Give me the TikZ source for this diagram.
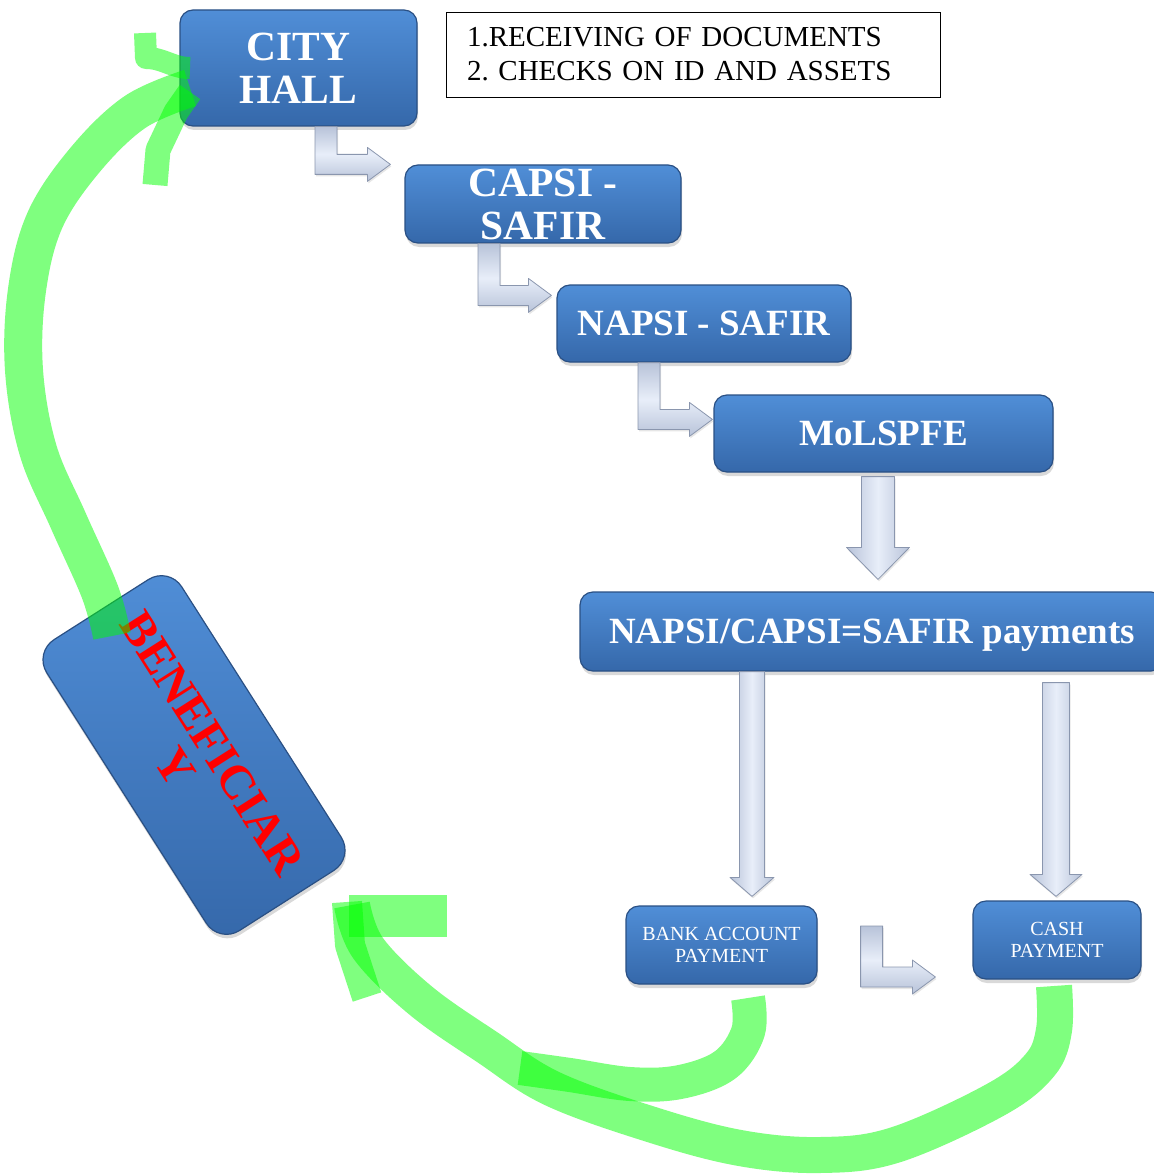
\documentclass[tikz,border=0pt]{standalone}
\usepackage{fontspec}
\setmainfont{Liberation Serif}
\usetikzlibrary{calc,shadows}

\definecolor{boxtop}{RGB}{80,142,215}
\definecolor{boxbot}{RGB}{53,104,170}
\definecolor{boxedge}{RGB}{42,80,132}
\definecolor{arrowlight}{RGB}{232,238,249}
\definecolor{arrowside}{RGB}{184,195,217}
\definecolor{arrowedge}{RGB}{138,150,174}
\definecolor{pengreen}{RGB}{0,255,0}

% L-shaped block arrow: #1 top of the stem, #2 the tip
\newcommand{\bentarrow}[2]{%
  \path[blockarrow, top color=arrowside, bottom color=arrowside, middle color=arrowlight]
    let \p1=(#1), \p2=(#2) in
    (\x1-11pt,\y1) -- (\x1+11pt,\y1) -- (\x1+11pt,\y2+10pt)
    -- (\x2-23pt,\y2+10pt) -- (\x2-23pt,\y2+17pt) -- (\x2,\y2)
    -- (\x2-23pt,\y2-17pt) -- (\x2-23pt,\y2-10pt)
    -- (\x1-11pt,\y2-10pt) -- cycle;}

% straight block arrow down: #1 start, #2 tip, #3 half stem, #4 half head, #5 head length
\newcommand{\dnarrow}[5]{%
  \path[blockarrow, left color=arrowside, right color=arrowside, middle color=arrowlight]
    let \p1=(#1), \p2=(#2) in
    (\x2-#3,\y1) -- (\x2+#3,\y1) -- (\x2+#3,\y2+#5) -- (\x2+#4,\y2+#5)
    -- (\x2,\y2) -- (\x2-#4,\y2+#5) -- (\x2-#3,\y2+#5) -- cycle;}

\begin{document}
\begin{tikzpicture}[
  x=1pt,
  y=-1pt,
  block/.style={
    draw=boxedge,
    line width=1.2pt,
    rounded corners=13pt,
    top color=boxtop,
    bottom color=boxbot,
    drop shadow={shadow xshift=1pt, shadow yshift=-4pt, opacity=.3},
    text=white,
    align=center,
    inner sep=1pt
  },
  big/.style={font=\fontsize{41.5}{43}\selectfont\bfseries},
  mid/.style={font=\fontsize{37}{40}\selectfont\bfseries},
  small/.style={font=\fontsize{20}{22}\selectfont},
  blockarrow/.style={
    draw=arrowedge,
    line width=.8pt,
    line join=round,
    drop shadow={shadow xshift=1pt, shadow yshift=-2pt, opacity=.2}
  },
  greenpen/.style={
    draw=pengreen,
    draw opacity=.5,
    line width=38pt,
    line cap=butt,
    line join=round
  }
  ]
  \useasboundingbox (0,0) rectangle (1153,1174);

  \node [block, big, minimum width=237pt, minimum height=116pt] (city) at (298.5,68) {CITY\\HALL};
  \node [draw, line width=.8pt, fill=white, minimum width=494pt, minimum height=85pt,
    text width=452pt, inner xsep=21pt, align=left,
    font=\fontsize{29}{34}\selectfont] (tasks) at (693,54.5)
    {1.RECEIVING OF DOCUMENTS\\2.\ CHECKS ON ID AND ASSETS};
  \node [block, big, minimum width=276pt, minimum height=78pt] (capsi) at (543,204) {CAPSI -\\SAFIR};
  \node [block, mid, minimum width=294pt, minimum height=77pt] (napsi) at (704,323.5) {NAPSI - SAFIR};
  \node [block, mid, minimum width=339pt, minimum height=77pt] (molspfe) at (883.5,433.5) {MoLSPFE};
  \node [block, mid, text depth=0pt, minimum width=584pt, minimum height=79pt] (payments) at (872,631.5) {NAPSI/CAPSI=SAFIR payments};
  \node [block, small, minimum width=191pt, minimum height=78pt] (bank) at (721.5,945) {BANK ACCOUNT\\PAYMENT};
  \node [block, small, minimum width=168pt, minimum height=78pt] (cash) at (1057,940) {CASH\\PAYMENT};
  \node [block, rounded corners=24pt, text=red, font=\fontsize{48}{44}\selectfont\bfseries,
    minimum width=345pt, minimum height=160pt, rotate=-57.5] (benef) at (194,755) {BENEFICIAR\\Y};

  \bentarrow{$(city.south)+(27.5,0)$}{$(capsi.north west)+(-14,0)$}
  \bentarrow{$(capsi.south)+(-54,0)$}{$(napsi.north west)+(-5,11)$}
  \bentarrow{$(napsi.south)+(-55,0)$}{$(molspfe.north west)+(-1,25)$}
  \bentarrow{$(bank.east)+(54,-19)$}{$(cash.west)+(-37,37)$}

  \dnarrow{$(molspfe.south)+(-5.5,4)$}{$(payments.north)+(6,-12)$}{16.5pt}{31.5pt}{32pt}
  \dnarrow{$(payments.south)+(-120,0)$}{$(bank.north)+(30.5,-9)$}{12.5pt}{22pt}{19pt}
  \dnarrow{$(payments.south)+(184,11)$}{$(cash.north)+(-1,-4)$}{13.5pt}{26pt}{22pt}

  % highlighter marks
  \draw [greenpen] plot [smooth, tension=.6] coordinates {(112,636) (100,592) (68,520)
    (38,450) (24,370) (27,290) (45,220) (85,160) (135,112) (190,88)};
  \draw [greenpen, line width=22pt] (145,33) -- (146,58) to [out=0, in=180] (190,68);
  \draw [greenpen, line width=25pt] (155,185) -- (158,150) -- (176,112) -- (190,92);
  \draw [greenpen, line width=36pt] plot [smooth, tension=.6] coordinates {(1054,986)
    (1054,1030) (1040,1065) (995,1100) (895,1145) (820,1155) (740,1148) (653,1125)
    (553,1089) (487,1047) (420,1000) (368,948) (352,905)};
  \draw [greenpen, line width=34pt] plot [smooth, tension=.6] coordinates {(748,998)
    (748,1032) (725,1065) (680,1082) (630,1084) (570,1075) (520,1068)};
  \draw [greenpen, line width=42pt] (349,916) -- (447,916);
  \draw [greenpen, line width=30pt] (347,902) -- (350,945) -- (367,997);
\end{tikzpicture}
\end{document}
